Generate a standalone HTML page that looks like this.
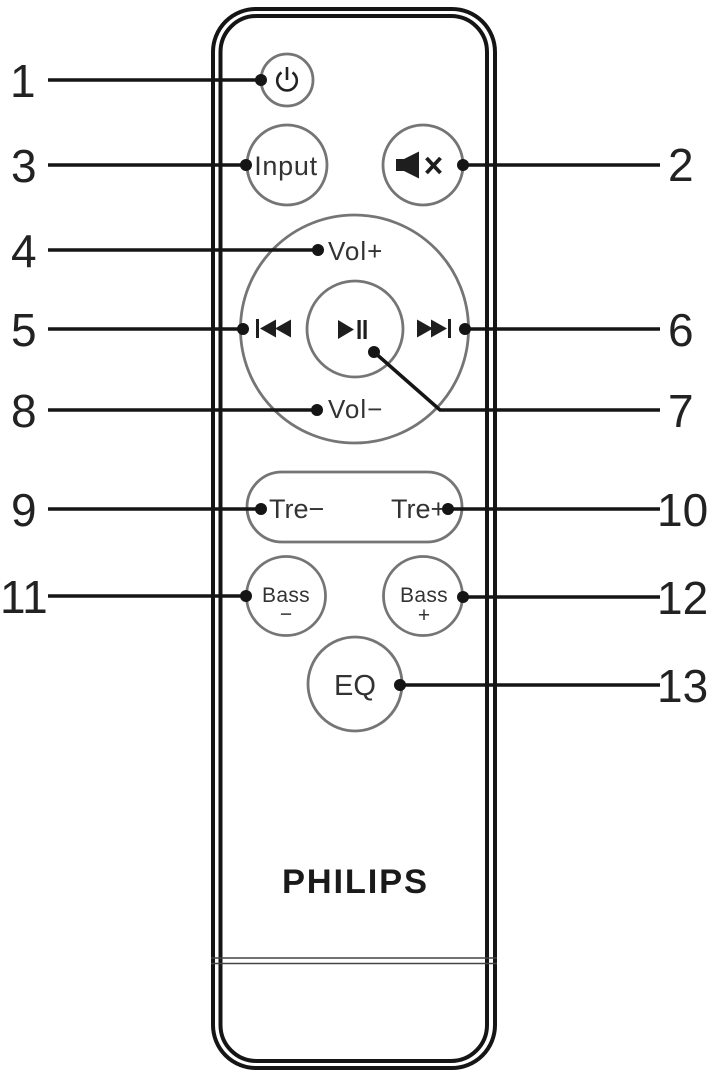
<!DOCTYPE html>
<html>
<head>
<meta charset="utf-8">
<style>
  html,body{margin:0;padding:0;background:#fff;}
  svg{display:block;}
  text{font-family:"Liberation Sans",Arial,sans-serif;}
</style>
</head>
<body>
<svg width="720" height="1080" viewBox="0 0 720 1080" xmlns="http://www.w3.org/2000/svg">
  <rect width="720" height="1080" fill="#fff"/>

  <!-- Remote body double outline -->
  <rect x="213" y="9" width="282" height="1059" rx="43" ry="43" fill="none" stroke="#151515" stroke-width="4"/>
  <rect x="220.5" y="16" width="266.5" height="1045" rx="36" ry="36" fill="none" stroke="#151515" stroke-width="4"/>
  <!-- bottom seam lines -->
  <line x1="211" y1="958" x2="497" y2="958" stroke="#444" stroke-width="1.5"/>
  <line x1="211" y1="963.5" x2="497" y2="963.5" stroke="#444" stroke-width="1.5"/>

  <!-- Buttons -->
  <g fill="none" stroke="#757575" stroke-width="2.8">
    <circle cx="287" cy="80" r="26"/>
    <circle cx="287" cy="165" r="40"/>
    <circle cx="423" cy="165" r="40"/>
    <circle cx="354.5" cy="329" r="114"/>
    <circle cx="355" cy="329" r="48"/>
    <rect x="247" y="472" width="215" height="70" rx="35" ry="35"/>
    <circle cx="286" cy="596" r="39.5"/>
    <circle cx="423" cy="596" r="39.5"/>
    <circle cx="355" cy="684" r="47"/>
  </g>

  <!-- Power icon -->
  <path d="M281.5 72.5 A9.8 9.8 0 1 0 292.5 72.5" fill="none" stroke="#222" stroke-width="2.6"/>
  <line x1="287" y1="67" x2="287" y2="80" stroke="#222" stroke-width="2.6"/>

  <!-- Input text -->
  <text x="286" y="175" font-size="27" fill="#333" text-anchor="middle" letter-spacing="0.7">Input</text>

  <!-- Mute icon -->
  <rect x="396" y="159" width="9" height="12" fill="#1e1e1e"/>
  <polygon points="404,159 419,151.5 419,178.5 404,171" fill="#1e1e1e"/>
  <line x1="426.5" y1="158" x2="440.5" y2="173" stroke="#1e1e1e" stroke-width="3.8"/>
  <line x1="440.5" y1="158" x2="426.5" y2="173" stroke="#1e1e1e" stroke-width="3.8"/>

  <!-- Vol texts -->
  <text x="328" y="260" font-size="26" fill="#333" letter-spacing="1">Vol+</text>
  <text x="328" y="418" font-size="26" fill="#333" letter-spacing="1">Vol−</text>

  <!-- Prev icon -->
  <rect x="256" y="319" width="3" height="19" fill="#1e1e1e"/>
  <polygon points="260,328.5 276,319.5 276,337.5" fill="#1e1e1e"/>
  <polygon points="275,328.5 291,319.5 291,337.5" fill="#1e1e1e"/>

  <!-- Play/Pause icon -->
  <polygon points="338,320 354,329.5 338,339" fill="#1e1e1e"/>
  <rect x="357.5" y="320" width="3.2" height="19" fill="#1e1e1e"/>
  <rect x="363.5" y="320" width="3.2" height="19" fill="#1e1e1e"/>

  <!-- Next icon -->
  <polygon points="417,319.5 433,328.5 417,337.5" fill="#1e1e1e"/>
  <polygon points="431,319.5 447,328.5 431,337.5" fill="#1e1e1e"/>
  <rect x="448" y="319" width="3" height="19" fill="#1e1e1e"/>

  <!-- Tre texts -->
  <text x="269" y="518" font-size="27" fill="#333">Tre−</text>
  <text x="391" y="518" font-size="27" fill="#333">Tre+</text>

  <!-- Bass texts -->
  <text x="286" y="602" font-size="21" fill="#333" text-anchor="middle" letter-spacing="0.3">Bass</text>
  <text x="286" y="621" font-size="21" fill="#333" text-anchor="middle">−</text>
  <text x="424" y="602" font-size="21" fill="#333" text-anchor="middle" letter-spacing="0.3">Bass</text>
  <text x="424" y="622" font-size="21" fill="#333" text-anchor="middle">+</text>

  <!-- EQ -->
  <text x="355" y="695" font-size="29" fill="#333" text-anchor="middle">EQ</text>

  <!-- PHILIPS -->
  <text x="282" y="893" font-size="34.5" font-weight="bold" fill="#1a1a1a" textLength="145" lengthAdjust="spacing">PHILIPS</text>

  <!-- Leader lines -->
  <g stroke="#151515" stroke-width="3.6" fill="none">
    <line x1="48" y1="80" x2="261" y2="80"/>
    <line x1="48" y1="165" x2="246" y2="165"/>
    <line x1="463" y1="165" x2="660" y2="165"/>
    <line x1="48" y1="250" x2="318" y2="250"/>
    <line x1="48" y1="329" x2="243" y2="329"/>
    <line x1="465" y1="329" x2="660" y2="329"/>
    <polyline points="374,352 440,410 660,410"/>
    <line x1="48" y1="410" x2="317" y2="410"/>
    <line x1="48" y1="509" x2="261" y2="509"/>
    <line x1="448" y1="509" x2="660" y2="509"/>
    <line x1="48" y1="596" x2="246" y2="596"/>
    <line x1="463" y1="597" x2="660" y2="597"/>
    <line x1="400" y1="685" x2="660" y2="685"/>
  </g>

  <!-- Dots -->
  <g fill="#151515">
    <circle cx="261" cy="80" r="6"/>
    <circle cx="246" cy="165" r="6"/>
    <circle cx="463" cy="165" r="6"/>
    <circle cx="318" cy="250" r="6"/>
    <circle cx="243" cy="329" r="6"/>
    <circle cx="465" cy="329" r="6"/>
    <circle cx="374" cy="352" r="6"/>
    <circle cx="317" cy="410" r="6"/>
    <circle cx="261" cy="509" r="6"/>
    <circle cx="448" cy="509" r="6"/>
    <circle cx="246" cy="596" r="6"/>
    <circle cx="463" cy="597" r="6"/>
    <circle cx="400" cy="685" r="6"/>
  </g>

  <!-- Number labels -->
  <g font-size="46" fill="#222">
    <text x="10" y="97">1</text>
    <text x="11" y="182">3</text>
    <text x="11" y="267">4</text>
    <text x="11" y="346">5</text>
    <text x="11" y="427">8</text>
    <text x="11" y="526">9</text>
    <text x="0" y="613">11</text>
    <text x="668" y="181">2</text>
    <text x="668" y="346">6</text>
    <text x="668" y="427">7</text>
    <text x="657" y="526">10</text>
    <text x="657" y="614">12</text>
    <text x="657" y="702">13</text>
  </g>
</svg>
</body>
</html>
